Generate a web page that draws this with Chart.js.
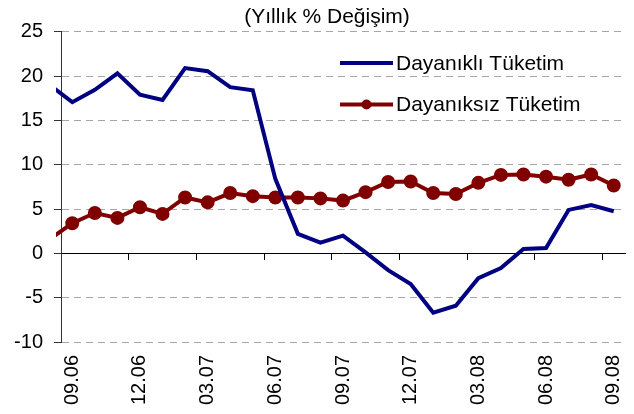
<!DOCTYPE html>
<html>
<head>
<meta charset="utf-8">
<script src="https://cdn.jsdelivr.net/npm/chart.js@4/dist/chart.umd.min.js"></script>
<style>
  html, body { margin: 0; padding: 0; background: #fff; }
  #wrap { width: 634px; height: 414px; }
</style>
</head>
<body>
<div id="wrap"><canvas id="chart"></canvas></div>
<script>
// monthly, mm.yy - first month sits left of the y axis (cut off)
const months = [
  '08.06', '09.06', '10.06', '11.06', '12.06',
  '01.07', '02.07', '03.07', '04.07', '05.07', '06.07', '07.07', '08.07', '09.07', '10.07', '11.07', '12.07',
  '01.08', '02.08', '03.08', '04.08', '05.08', '06.08', '07.08', '08.08', '09.08'
];
const durable = [
  19.0, 17.05, 18.45, 20.3, 17.9,
  17.3, 20.9, 20.55, 18.75, 18.4, 8.4, 2.2, 1.2, 2.0, 0.1, -1.9, -3.45,
  -6.7, -5.9, -2.8, -1.65, 0.5, 0.6, 4.9, 5.45, 4.75
];
const nonDurable = [
  1.6, 3.4, 4.55, 4.0, 5.2,
  4.45, 6.3, 5.75, 6.8, 6.45, 6.3, 6.3, 6.2, 5.95, 6.9, 8.05, 8.1,
  6.8, 6.7, 7.95, 8.85, 8.9, 8.65, 8.3, 8.9, 7.65
];
const seriesNames = ['Dayanıklı Tüketim', 'Dayanıksız Tüketim'];
const chartTitle = '(Yıllık % Değişim)';
const yTicks = { min: -10, max: 25, step: 5 };
const firstShown = '09.06';

const FONT = 'Liberation Sans, Arial, sans-serif';
const BLUE = '#000080';
const RED = '#800000';

// title a bit left of the plot centre, legend inside the plot
const decorations = {
  id: 'decorations',
  afterDatasetsDraw(chart) {
    const c = chart.ctx;
    c.save();
    c.fillStyle = '#000';
    c.font = '21px ' + FONT;
    c.textBaseline = 'middle';
    c.textAlign = 'center';
    c.fillText(chartTitle, 327, 17);

    const rows = [63, 104.5];
    chart.data.datasets.forEach((ds, i) => {
      const y = rows[i];
      c.strokeStyle = ds.borderColor;
      c.lineWidth = 4;
      c.beginPath();
      c.moveTo(340, y);
      c.lineTo(393, y);
      c.stroke();
      if (ds.pointRadius > 0) {
        c.fillStyle = ds.pointBackgroundColor;
        c.beginPath();
        c.arc(366.5, y, ds.pointRadius, 0, Math.PI * 2);
        c.fill();
      }
      c.fillStyle = '#000';
      c.textAlign = 'left';
      c.fillText(ds.label, 396, y + 1);
    });
    c.restore();
  }
};

new Chart(document.getElementById('chart'), {
  type: 'line',
  data: {
    labels: months,
    datasets: [{
      label: seriesNames[0],
      data: durable,
      borderColor: BLUE,
      backgroundColor: BLUE,
      borderWidth: 4,
      pointRadius: 0,
      tension: 0,
      clip: { left: 5, right: 10, top: 10, bottom: 10 }
    }, {
      label: seriesNames[1],
      data: nonDurable,
      borderColor: RED,
      backgroundColor: RED,
      pointBackgroundColor: RED,
      pointBorderColor: RED,
      borderWidth: 4,
      pointRadius: 5,
      tension: 0,
      clip: { left: 5, right: 10, top: 10, bottom: 10 }
    }]
  },
  options: {
    responsive: true,
    maintainAspectRatio: false,
    animation: false,
    layout: { padding: { left: 0, right: 8, top: 31.7, bottom: 0 } },
    plugins: {
      legend: { display: false },
      tooltip: { enabled: false },
      title: { display: false }
    },
    scales: {
      x: {
        type: 'category',
        min: firstShown,
        offset: true,
        grid: { display: false },
        border: { display: false },
        ticks: {
          autoSkip: false,
          minRotation: 90,
          maxRotation: 90,
          padding: 5,
          color: '#000',
          font: { family: FONT, size: 20 },
          callback: function (value, index) {
            return index % 3 === 0 ? this.getLabelForValue(value) : '';
          }
        },
        afterFit(scale) {
          scale.height = 72;
          scale.paddingLeft = 0;
          scale.paddingRight = 0;
        }
      },
      // zero line with tick marks between the quarters
      x2: {
        type: 'category',
        min: firstShown,
        offset: true,
        position: { y: 0 },
        ticks: { display: false, autoSkip: false },
        grid: {
          offset: true,
          drawOnChartArea: false,
          drawTicks: true,
          tickLength: 6,
          tickWidth: 1,
          color: (ctx) => ctx.index % 3 === 0 ? '#000' : 'rgba(0,0,0,0)',
          tickColor: (ctx) => ctx.index % 3 === 0 ? '#000' : 'rgba(0,0,0,0)'
        },
        border: { display: true, color: '#000', width: 1 },
        afterFit(scale) {
          scale.paddingLeft = 0;
          scale.paddingRight = 0;
        }
      },
      y: {
        min: yTicks.min,
        max: yTicks.max,
        ticks: {
          stepSize: yTicks.step,
          padding: 11,
          color: '#000',
          font: { family: FONT, size: 20 }
        },
        grid: {
          color: (ctx) => ctx.tick && ctx.tick.value === 0 ? 'rgba(0,0,0,0)' : '#a6a6a6',
          tickColor: '#333',
          tickLength: 7,
          tickBorderDash: [],
          lineWidth: 1
        },
        border: { display: true, color: '#333', width: 1, dash: [7, 5] },
        afterFit(scale) { scale.width = 61; }
      }
    }
  },
  plugins: [decorations]
});
</script>
</body>
</html>
